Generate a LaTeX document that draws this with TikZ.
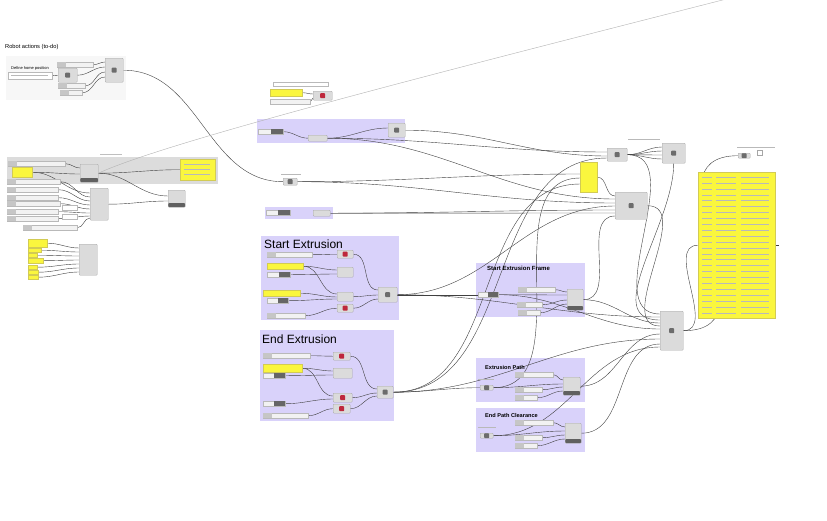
\documentclass[tikz,border=0pt]{standalone}
\usepackage{fontspec}
\setmainfont{Liberation Sans}
\usetikzlibrary{positioning}
\pgfdeclarelayer{grp}
\pgfdeclarelayer{wirelayer}
\pgfsetlayers{grp,wirelayer,main}
\definecolor{grpviolet}{RGB}{217,210,250}
\definecolor{grpgray}{RGB}{220,220,220}
\definecolor{panelyellow}{RGB}{250,246,62}
\definecolor{iconred}{RGB}{190,40,60}
\tikzset{
  sz/.style 2 args={minimum width=#1,minimum height=#2},
  comp/.style={draw=gray!70,fill=gray!28,rounded corners=0.8pt,inner sep=0pt,anchor=north west},
  slider/.style={draw=gray!55,fill=gray!10,inner sep=0pt,anchor=north west},
  panel/.style={draw=yellow!60!gray,fill=panelyellow,inner sep=0pt,anchor=north west},
  icon/.style={path picture={\fill[gray!85!black] ([shift={(-2.5,-2.5)}]path picture bounding box.center) rectangle ++(5,5);}},
  ricon/.style={path picture={\fill[iconred] ([shift={(-2.5,-2.5)}]path picture bounding box.center) rectangle ++(5,5);}},
  bar/.style={path picture={\fill[gray!75!black] (path picture bounding box.south west) rectangle ([shift={(0,-4)}]path picture bounding box.south east);}},
  wire/.style={draw=gray!50!black,line width=0.4pt},
  fake/.style={draw=gray!55,line width=0.6pt},
  title/.style={anchor=west,inner sep=0pt,font=\fontsize{12}{13}\selectfont},
  small/.style={anchor=west,inner sep=0pt,font=\fontsize{5.7}{6}\selectfont},
  gtitle/.style={anchor=west,inner sep=0pt,font=\bfseries\fontsize{5.6}{6}\selectfont},
}
% slider: name, x, y, width
\newcommand{\gslider}[4]{%
  \node[slider,sz={#4}{5}] (#1) at (#2,#3) {};
  \fill[gray!45] (#1.north west) rectangle ([shift={(9,0)}]#1.south west);}
% parameter with dark value field: name, x, y, width
\newcommand{\gparam}[4]{%
  \node[slider,sz={#4}{5}] (#1) at (#2,#3) {};
  \fill[gray!80!black] ([shift={(#4/2,0)}]#1.north west) rectangle (#1.south east);}

\begin{document}
\begin{tikzpicture}[x=1pt,y=-1pt]
  \useasboundingbox (0,0) rectangle (827,520);

  % groups
  \begin{pgfonlayer}{grp}
    \fill[white] (0,0) rectangle (827,520);
    \fill[gray!6] (6,56) rectangle (126,100);
    \fill[grpgray] (7,157) rectangle (218,184);
    \fill[grpviolet] (257,119) rectangle (405,143);
    \fill[grpviolet] (265,207) rectangle (333,219);
    \fill[grpviolet] (261,236) rectangle (399,320);
    \fill[grpviolet] (260,330) rectangle (394,421);
    \fill[grpviolet] (476,263) rectangle (585,317);
    \fill[grpviolet] (476,358) rectangle (585,402);
    \fill[grpviolet] (476,408) rectangle (585,452);
  \end{pgfonlayer}

  % robot actions
  \node[small] (robottitle) at (5,47) {Robot actions (to-do)};
  \node[small,font=\fontsize{4}{4.5}\selectfont] (hometitle) at (11,68) {Define home position};
  \node[slider,sz={44}{7},fill=white] (homepanel) at (8,72) {};
  \draw[fake,line width=0.5pt] (11,75.5) -- (48,75.5);
  \node[comp,sz={19}{14},icon] (homeplane) at (58,68) {};
  \gslider{rs1}{57}{62}{36}
  \gslider{rs2}{58}{83}{27}
  \gslider{rs3}{60}{90}{22}
  \node[comp,sz={18}{24},bar,icon] (robotcomp) at (105,58) {};

  % grey group
  \draw[fake,gray!50] (100,154) -- (122,154);
  \gslider{gs0}{8}{161}{57}
  \node[panel,sz={20}{10}] (gpanel) at (12,167) {};
  \node[comp,sz={18}{18},bar] (gcomp) at (80,164) {};
  \node[panel,sz={35}{21}] (gpanelR) at (180,159) {};
  \foreach \r in {0,1,2} {\draw[fake,line width=0.4pt] (184,{164+\r*5}) -- ++(26,0);}
  \gslider{bs1}{7}{179}{53}
  \gslider{bs2}{7}{187}{51}
  \gslider{bs3}{7}{195}{51}
  \gslider{bs4}{7}{201}{53}
  \gslider{bs5}{7}{209}{51}
  \gslider{bs6}{7}{216}{51}
  \gslider{bs7}{23}{225}{54}
  \node[slider,sz={15}{5},fill=white] (bx1) at (62,205) {};
  \node[slider,sz={15}{5},fill=white] (bx2) at (62,214) {};
  \node[comp,sz={18}{32}] (bigcomp) at (90,188) {};
  \node[comp,sz={17}{17},icon,bar] (sidecomp) at (168,190) {};

  % yellow inputs, lower left
  \node[panel,sz={19}{8}] (lp1) at (28,239) {};
  \node[panel,sz={13}{4}] (lp2) at (28,248) {};
  \node[panel,sz={9}{4}] (lp3) at (28,253) {};
  \node[panel,sz={15}{5}] (lp4) at (28,258) {};
  \node[panel,sz={9}{4}] (lp5) at (28,265) {};
  \node[panel,sz={10}{4}] (lp6) at (28,270) {};
  \node[panel,sz={10}{4}] (lp7) at (28,275) {};
  \node[comp,sz={18}{31}] (lcomp) at (79,244) {};

  % top cluster
  \node[slider,sz={55}{4},fill=white] (toplabel) at (273,82) {};
  \node[panel,sz={32}{7}] (toppanel) at (270,89) {};
  \node[slider,sz={40}{5}] (topslider) at (270,99) {};
  \node[comp,sz={19}{9},ricon] (topcomp) at (313,91) {};

  % small groups
  \gparam{g1param}{258}{129}{25}
  \node[comp,sz={19}{6}] (g1comp) at (308,135) {};
  \node[comp,sz={17}{14},icon] (g1out) at (388,123) {};
  \draw[fake,line width=0.5pt] (281,174) -- (301,174);
  \node[comp,sz={14}{7},icon] (extknob) at (283,178) {};
  \gparam{g2param}{266}{210}{24}
  \node[comp,sz={17}{6}] (g2comp) at (313,210) {};

  % start extrusion
  \node[title] (starttitle) at (264,244) {Start Extrusion};
  \gslider{ss1}{267}{252}{45}
  \node[comp,sz={16}{8},ricon] (sc1) at (337,250) {};
  \node[panel,sz={36}{6}] (sp1) at (267,263) {};
  \gparam{sd1}{267}{272}{23}
  \node[comp,sz={16}{10}] (sc2) at (337,267) {};
  \node[panel,sz={37}{6}] (sp2) at (263,290) {};
  \gparam{sd2}{267}{298}{21}
  \node[comp,sz={16}{9}] (sc3) at (337,292) {};
  \node[comp,sz={16}{8},ricon] (sc4) at (337,304) {};
  \gslider{ss2}{267}{313}{38}
  \node[comp,sz={19}{15},icon] (sbig) at (378,287) {};

  % end extrusion
  \node[title] (endtitle) at (262,339) {End Extrusion};
  \gslider{es1}{263}{353}{47}
  \node[comp,sz={17}{8},ricon] (ec1) at (333,352) {};
  \node[panel,sz={39}{8}] (ep1) at (263,364) {};
  \gparam{ed1}{263}{373}{22}
  \node[comp,sz={19}{10}] (ec2) at (333,368) {};
  \node[comp,sz={19}{9},ricon] (ec3) at (333,393) {};
  \gparam{ed2}{263}{401}{22}
  \node[comp,sz={17}{9},ricon] (ec4) at (333,404) {};
  \gslider{es2}{263}{413}{45}
  \node[comp,sz={16}{12},icon] (ebig) at (377,386) {};

  % start extrusion frame
  \node[gtitle,font=\bfseries\fontsize{6}{6.5}\selectfont] (frametitle) at (487,268) {Start Extrusion Frame};
  \gparam{fknob}{478}{292}{20}
  \gslider{fs1}{518}{287}{37}
  \gslider{fs2}{517}{302}{25}
  \gslider{fs3}{518}{310}{22}
  \node[comp,sz={16}{21},bar] (fcomp) at (567,289) {};

  % extrusion path
  \node[gtitle] (pathtitle) at (485,367) {Extrusion Path};
  \draw[fake,line width=0.5pt] (478,379) -- (494,379);
  \node[comp,sz={13}{5},icon] (pknob) at (480,385) {};
  \gslider{ps1}{515}{372}{38}
  \gslider{ps2}{515}{387}{27}
  \gslider{ps3}{515}{395}{22}
  \node[comp,sz={17}{18},bar] (pcomp) at (563,377) {};

  % end path clearance
  \node[gtitle] (cleartitle) at (485,415) {End Path Clearance};
  \draw[fake,line width=0.5pt] (478,427) -- (496,427);
  \node[comp,sz={13}{5},icon] (cknob) at (480,433) {};
  \gslider{cs1}{515}{420}{38}
  \gslider{cs2}{515}{435}{27}
  \gslider{cs3}{515}{443}{22}
  \node[comp,sz={16}{20},bar] (ccomp) at (565,423) {};

  % right side
  \draw[fake,line width=0.5pt] (628,139) -- (660,139);
  \node[comp,sz={20}{13},icon] (rc1) at (607,148) {};
  \node[comp,sz={23}{20},icon] (rc2) at (662,143) {};
  \node[panel,sz={17}{30}] (rpanel) at (580,162) {};
  \node[comp,sz={32}{27},icon] (rc3) at (615,192) {};
  \node[comp,sz={23}{39},icon] (merge) at (660,311) {};
  \draw[fake,line width=0.5pt] (737,147) -- (775,147);
  \node[comp,sz={12}{5},icon] (outknob) at (738,153) {};
  \node[draw=gray!70,inner sep=0pt,sz={5}{5},anchor=north west] (outicon) at (757,150) {};
  \node[panel,sz={77}{146}] (bigpanel) at (698,172) {};
  \foreach \r in {0,...,23} {
    \draw[fake,line width=0.35pt] (702,{177+\r*5.9}) -- ++(10,0);
    \draw[fake,line width=0.35pt] (716,{177+\r*5.9}) -- ++(20,0);
    \draw[fake,line width=0.35pt] (741,{177+\r*5.9}) -- ++(28,0);
  }
  \coordinate (farend) at (746,-6);

  % wires
  \begin{pgfonlayer}{wirelayer}
    \draw[wire] (homepanel.east) to[out=0,in=180] (homeplane.west);
    \draw[wire] (rs1.east) to[out=0,in=180] ([shift={(0,4)}]robotcomp.north west);
    \draw[wire] (homeplane.east) to[out=0,in=180] ([shift={(0,9)}]robotcomp.north west);
    \draw[wire] (rs2.east) to[out=0,in=180] ([shift={(0,14)}]robotcomp.north west);
    \draw[wire] (rs3.east) to[out=0,in=180] ([shift={(0,19)}]robotcomp.north west);
    \draw[wire] (robotcomp.east) to[out=0,in=180] (extknob.west);

    \draw[wire] (gs0.east) to[out=0,in=180] ([shift={(0,4)}]gcomp.north west);
    \draw[wire] (gpanel.east) to[out=0,in=180] ([shift={(0,10)}]gcomp.north west);
    \draw[wire] (gpanel.east) to[out=0,in=180] ([shift={(0,5)}]bigcomp.north west);
    \draw[wire] (gcomp.east) to[out=0,in=180] (gpanelR.west);
    \draw[wire] (gcomp.east) to[out=0,in=180] ([shift={(0,6)}]sidecomp.north west);
    \draw[wire,gray!60] (gcomp.east) .. controls (170,140) and (480,62) .. (farend);
    \foreach \n/\k in {bs1/9,bs2/13,bs3/17,bs4/21,bs5/25,bs6/28,bs7/30}
      {\draw[wire] (\n.east) to[out=0,in=180] ([shift={(0,\k)}]bigcomp.north west);}
    \draw[wire] (bigcomp.east) to[out=0,in=180] ([shift={(0,11)}]sidecomp.north west);
    \foreach \n/\k in {lp1/4,lp2/8,lp3/12,lp4/16,lp5/20,lp6/24,lp7/28}
      {\draw[wire] (\n.east) to[out=0,in=180] ([shift={(0,\k)}]lcomp.north west);}

    \draw[wire] (toppanel.east) to[out=0,in=180] ([shift={(0,3)}]topcomp.north west);
    \draw[wire] (topslider.east) to[out=0,in=180] ([shift={(0,7)}]topcomp.north west);

    \draw[wire] (g1param.east) to[out=0,in=180] (g1comp.west);
    \draw[wire] (g1comp.east) to[out=0,in=180] ([shift={(0,5)}]g1out.north west);
    \draw[wire] (g1comp.east) to[out=0,in=180] ([shift={(0,4)}]rc1.north west);
    \draw[wire] (g1comp.east) to[out=0,in=180] ([shift={(0,7)}]rc3.north west);
    \draw[wire] (g1out.east) to[out=0,in=180] ([shift={(0,8)}]rc1.north west);
    \draw[wire] (extknob.east) to[out=0,in=180] ([shift={(0,12)}]rpanel.north west);
    \draw[wire] (extknob.east) to[out=0,in=180] ([shift={(0,11)}]rc3.north west);
    \draw[wire] (g2comp.east) to[out=0,in=180] ([shift={(0,18)}]rc3.north west);
    \draw[wire] (g2comp.east) to[out=0,in=180] ([shift={(0,21)}]rc3.north west);

    \draw[wire] (ss1.east) to[out=0,in=180] (sc1.west);
    \draw[wire] (sp1.east) to[out=0,in=180] ([shift={(0,3)}]sc2.north west);
    \draw[wire] (sd1.east) to[out=0,in=180] ([shift={(0,7)}]sc2.north west);
    \draw[wire] (sp1.east) to[out=0,in=180] ([shift={(0,2)}]sc3.north west);
    \draw[wire] (sp2.east) to[out=0,in=180] ([shift={(0,5)}]sc3.north west);
    \draw[wire] (sd2.east) to[out=0,in=180] ([shift={(0,7)}]sc3.north west);
    \draw[wire] (ss2.east) to[out=0,in=180] (sc4.west);
    \draw[wire] (sc1.east) to[out=0,in=180] ([shift={(0,3)}]sbig.north west);
    \draw[wire] (sc3.east) to[out=0,in=180] ([shift={(0,8)}]sbig.north west);
    \draw[wire] (sc4.east) to[out=0,in=180] ([shift={(0,12)}]sbig.north west);
    \draw[wire] (sbig.east) to[out=0,in=180] ([shift={(0,14)}]rc3.north west);
    \draw[wire] (sbig.east) to[out=0,in=180] ([shift={(0,6)}]merge.north west);
    \draw[wire] (sbig.east) to[out=0,in=180] (fknob.west);

    \draw[wire] (es1.east) to[out=0,in=180] (ec1.west);
    \draw[wire] (ep1.east) to[out=0,in=180] ([shift={(0,3)}]ec2.north west);
    \draw[wire] (ed1.east) to[out=0,in=180] ([shift={(0,7)}]ec2.north west);
    \draw[wire] (ep1.east) to[out=0,in=180] ([shift={(0,3)}]ec3.north west);
    \draw[wire] (ed2.east) to[out=0,in=180] ([shift={(0,6)}]ec3.north west);
    \draw[wire] (es2.east) to[out=0,in=180] (ec4.west);
    \draw[wire] (ec1.east) to[out=0,in=180] ([shift={(0,3)}]ebig.north west);
    \draw[wire] (ec3.east) to[out=0,in=180] ([shift={(0,7)}]ebig.north west);
    \draw[wire] (ec4.east) to[out=0,in=180] ([shift={(0,10)}]ebig.north west);
    \draw[wire] (ebig.east) to[out=0,in=180] (pknob.west);
    \draw[wire] (ebig.east) to[out=0,in=180] ([shift={(0,28)}]merge.north west);
    \draw[wire] (ebig.east) to[out=0,in=180] ([shift={(0,22)}]rpanel.north west);
    \draw[wire] (ebig.east) to[out=0,in=180] ([shift={(0,10)}]rc1.north west);

    \draw[wire] (fknob.east) to[out=0,in=180] ([shift={(0,6)}]fcomp.north west);
    \draw[wire] (fs1.east) to[out=0,in=180] ([shift={(0,3)}]fcomp.north west);
    \draw[wire] (fs2.east) to[out=0,in=180] ([shift={(0,11)}]fcomp.north west);
    \draw[wire] (fs3.east) to[out=0,in=180] ([shift={(0,15)}]fcomp.north west);
    \draw[wire] (fcomp.east) to[out=0,in=180] ([shift={(0,12)}]merge.north west);
    \draw[wire] (fcomp.east) to[out=0,in=180] ([shift={(0,24)}]rc3.north west);
    \draw[wire] (fknob.east) to[out=0,in=180] ([shift={(0,18)}]merge.north west);

    \draw[wire] (pknob.east) to[out=0,in=180] ([shift={(0,7)}]pcomp.north west);
    \draw[wire] (ps1.east) to[out=0,in=180] ([shift={(0,3)}]pcomp.north west);
    \draw[wire] (ps2.east) to[out=0,in=180] ([shift={(0,10)}]pcomp.north west);
    \draw[wire] (ps3.east) to[out=0,in=180] ([shift={(0,14)}]pcomp.north west);
    \draw[wire] (pcomp.east) to[out=0,in=180] ([shift={(0,23)}]merge.north west);
    \draw[wire] (pknob.east) to[out=0,in=180] ([shift={(0,16)}]rpanel.north west);

    \draw[wire] (cknob.east) to[out=0,in=180] ([shift={(0,8)}]ccomp.north west);
    \draw[wire] (cs1.east) to[out=0,in=180] ([shift={(0,4)}]ccomp.north west);
    \draw[wire] (cs2.east) to[out=0,in=180] ([shift={(0,12)}]ccomp.north west);
    \draw[wire] (cs3.east) to[out=0,in=180] ([shift={(0,16)}]ccomp.north west);
    \draw[wire] (ccomp.east) to[out=0,in=180] ([shift={(0,33)}]merge.north west);
    \draw[wire] (cknob.east) to[out=0,in=180] ([shift={(0,36)}]merge.north west);

    \draw[wire] (rpanel.east) to[out=0,in=180] ([shift={(0,4)}]rc3.north west);
    \foreach \k in {4,8,12,16}
      {\draw[wire] (rc1.east) to[out=0,in=180] ([shift={(0,\k)}]rc2.north west);}
    \draw[wire] (rc1.east) to[out=0,in=180] ([shift={(0,3)}]merge.north west);
    \draw[wire] (rc2.south) to[out=-90,in=180] ([shift={(0,9)}]merge.north west);
    \draw[wire] (rc3.east) to[out=0,in=180] ([shift={(0,15)}]merge.north west);
    \draw[wire] (merge.east) to[out=0,in=180] (bigpanel.west);
    \draw[wire] (merge.east) to[out=0,in=180,looseness=1.4] (outknob.west);
    \draw[wire] (bigpanel.east) -- ++(4,0);
  \end{pgfonlayer}
\end{tikzpicture}
\end{document}
